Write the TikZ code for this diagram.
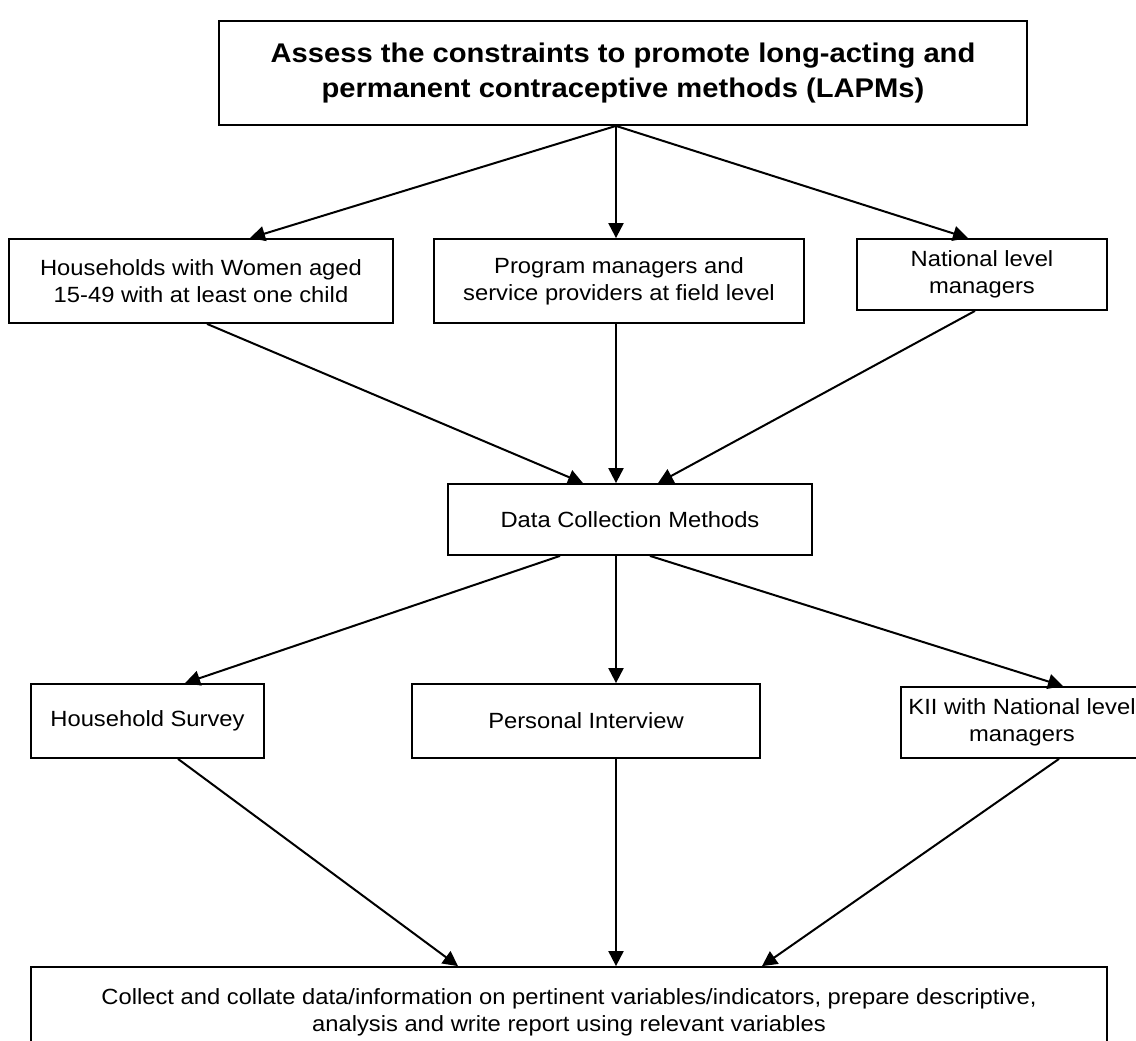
\documentclass[tikz,border=0pt]{standalone}
\usepackage{fontspec}
\setmainfont{Liberation Sans}[FakeStretch=1.08]
\usetikzlibrary{
  arrows.meta,
  calc,
  positioning,
}
\tikzset{
  >={Triangle[length=7.5pt, width=7.5pt]},
}

\begin{document}
\begin{tikzpicture}[x=0.5pt, y=-0.5pt, line width=0.9pt,
                    box/.style={draw, align=center, inner sep=2pt,
                                font=\fontsize{11}{13.5}\selectfont},
                    link/.style={->, line width=1pt}]
  \useasboundingbox (0,0) rectangle (1136,1040);
  \clip (0,0) rectangle (1136,1040);
  \node [box, minimum width=404pt, minimum height=52pt,
         font=\fontsize{13.5}{17.5}\selectfont\bfseries] (aim) at (623,73)
        {Assess the constraints to promote long-acting and\\
         permanent contraceptive methods (LAPMs)};
  \node [box, minimum width=192pt, minimum height=42pt] (hh) at (201,281)
        {Households with Women aged\\15-49 with at least one child};
  \node [box, minimum width=185pt, minimum height=42pt] (prog) at (619,281)
        {Program managers and\\service providers at field level};
  \node [box, minimum width=125pt, minimum height=35.5pt] (nat) at (982,274.5)
        {National level\\managers};
  \node [box, minimum width=182pt, minimum height=35.5pt] (dcm) at (630,519.5)
        {Data Collection Methods};
  \node [box, minimum width=116.5pt, minimum height=37pt] (survey) at (147.5,721)
        {Household Survey};
  \node [box, minimum width=174pt, minimum height=37pt] (pint) at (586,721)
        {Personal Interview};
  \node [box, minimum width=121pt, minimum height=35.5pt] (kii) at (1022,722.5)
        {KII with National level\\managers};
  \node [box, minimum width=538pt, minimum height=45pt] (report) at (569,1012)
        {Collect and collate data/information on pertinent variables/indicators, prepare descriptive,\\
         analysis and write report using relevant variables};
  \draw [link] ($(aim.south)+(-7,0)$) -- ($(hh.north)+(49,0)$);
  \draw [link] ($(aim.south)+(-7,0)$) -- ($(prog.north)+(-3,0)$);
  \draw [link] ($(aim.south)+(-7,0)$) -- ($(nat.north)+(-14,0)$);
  \draw [link] ($(hh.south)+(6,0)$) -- ($(dcm.north)+(-47,0)$);
  \draw [link] ($(prog.south)+(-3,0)$) -- ($(dcm.north)+(-14,0)$);
  \draw [link] ($(nat.south)+(-7,0)$) -- ($(dcm.north)+(28,0)$);
  \draw [link] ($(dcm.south)+(-70,0)$) -- ($(survey.north)+(37.5,0)$);
  \draw [link] ($(dcm.south)+(-14,0)$) -- ($(pint.north)+(30,0)$);
  \draw [link] ($(dcm.south)+(20,0)$) -- ($(kii.north)+(41,0)$);
  \draw [link] ($(survey.south)+(30.5,0)$) -- ($(report.north)+(-111,0)$);
  \draw [link] ($(pint.south)+(30,0)$) -- ($(report.north)+(47,0)$);
  \draw [link] ($(kii.south)+(37,0)$) -- ($(report.north)+(193,0)$);
\end{tikzpicture}
\end{document}
